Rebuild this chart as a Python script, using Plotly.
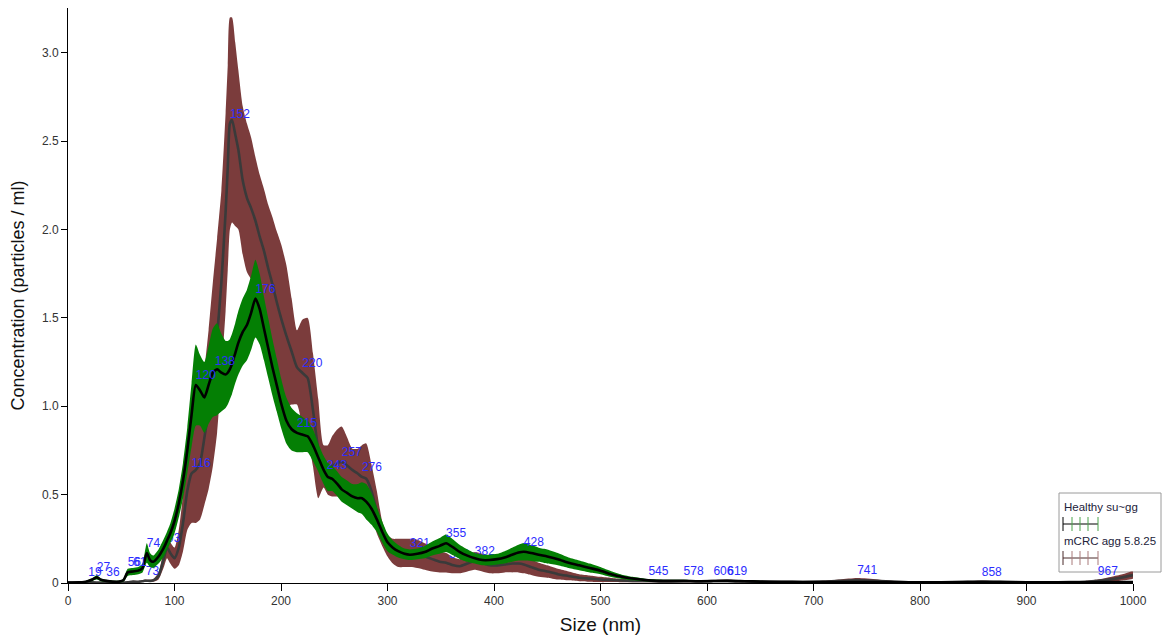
import numpy as np
import plotly.graph_objects as go

# Particle size grid (nm)
size_nm = [0, 10, 15, 19, 23, 27, 31, 36, 42, 48, 52, 56, 61, 66, 70, 72, 74, 77, 80, 85,
           90, 93, 96, 100, 104, 108, 112, 116, 120, 124, 128, 132, 136, 140, 144, 148, 150,
           152, 154, 157, 160, 164, 168, 172, 176, 180, 184, 188, 192, 196, 200, 205, 210,
           215, 220, 225, 230, 235, 240, 244, 248, 253, 257, 262, 267, 272, 276, 280, 285,
           290, 295, 300, 305, 310, 316, 321, 328, 335, 342, 349, 355, 362, 368, 375, 382,
           389, 396, 403, 410, 417, 423, 428, 435, 442, 450, 460, 470, 480, 490, 500, 510,
           520, 530, 545, 560, 578, 592, 606, 619, 635, 650, 670, 690, 710, 725, 741, 760,
           780, 800, 820, 840, 858, 880, 900, 920, 940, 955, 967, 980, 990, 1000]

# Healthy: mean concentration and error (E6 particles / ml)
healthy_mean = [0.003, 0.004, 0.006, 0.012, 0.02, 0.032, 0.018, 0.012, 0.008, 0.008, 0.015,
                0.06, 0.065, 0.07, 0.085, 0.13, 0.17, 0.13, 0.12, 0.15,
                0.2, 0.24, 0.28, 0.35, 0.45, 0.58, 0.75, 0.95, 1.12, 1.09, 1.05, 1.12, 1.19,
                1.21, 1.19, 1.18, 1.19,
                1.21, 1.24, 1.3, 1.36, 1.42, 1.46, 1.53, 1.61, 1.55, 1.44, 1.33, 1.22, 1.12,
                1.02, 0.92, 0.87,
                0.85, 0.84, 0.83, 0.78, 0.71, 0.64, 0.6, 0.59, 0.56, 0.53, 0.51, 0.49, 0.48,
                0.48, 0.46, 0.42,
                0.36, 0.29, 0.23, 0.2, 0.18, 0.165, 0.16, 0.165, 0.175, 0.195, 0.21, 0.225,
                0.2, 0.175, 0.155, 0.14,
                0.13, 0.13, 0.135, 0.145, 0.16, 0.172, 0.177, 0.17, 0.16, 0.15, 0.135, 0.115,
                0.1, 0.085, 0.07, 0.05,
                0.035, 0.025, 0.015, 0.012, 0.012, 0.01, 0.011, 0.012, 0.01, 0.008, 0.007,
                0.006, 0.005, 0.005, 0.005, 0.005,
                0.005, 0.004, 0.004, 0.005, 0.006, 0.005, 0.004, 0.004, 0.004, 0.004, 0.005,
                0.005, 0.005, 0.005]
healthy_err = [0.002, 0.002, 0.003, 0.005, 0.008, 0.012, 0.008, 0.006, 0.005, 0.005, 0.008,
               0.02, 0.02, 0.02, 0.025, 0.04, 0.055, 0.04, 0.035, 0.04,
               0.05, 0.05, 0.055, 0.07, 0.08, 0.1, 0.13, 0.18, 0.23, 0.2, 0.2, 0.22, 0.25,
               0.26, 0.22, 0.19, 0.18,
               0.17, 0.17, 0.17, 0.18, 0.19, 0.2, 0.21, 0.22, 0.2, 0.18, 0.17, 0.16, 0.15,
               0.14, 0.13, 0.12,
               0.11, 0.1, 0.09, 0.09, 0.08, 0.08, 0.08, 0.07, 0.07, 0.07, 0.07, 0.07, 0.08,
               0.09, 0.1, 0.09,
               0.07, 0.06, 0.05, 0.04, 0.035, 0.03, 0.03, 0.03, 0.035, 0.04, 0.045, 0.05,
               0.045, 0.04, 0.035, 0.03,
               0.03, 0.03, 0.03, 0.035, 0.04, 0.045, 0.05, 0.045, 0.04, 0.04, 0.035, 0.03,
               0.028, 0.025, 0.02, 0.016,
               0.012, 0.01, 0.007, 0.006, 0.006, 0.005, 0.005, 0.005, 0.005, 0.004, 0.004,
               0.003, 0.003, 0.003, 0.003, 0.003,
               0.003, 0.003, 0.003, 0.003, 0.004, 0.003, 0.003, 0.003, 0.003, 0.003, 0.003,
               0.003, 0.003, 0.003]

# mCRC: mean concentration and error
mcrc_mean = [0.002, 0.002, 0.003, 0.006, 0.004, 0.003, 0.003, 0.006, 0.003, 0.002, 0.003,
             0.004, 0.008, 0.007, 0.01, 0.013, 0.013, 0.012, 0.015, 0.04,
             0.14, 0.2, 0.17, 0.14, 0.2, 0.34, 0.52, 0.62, 0.64, 0.68, 0.82, 0.98, 1.18,
             1.4, 1.7, 2.1, 2.35,
             2.6, 2.62, 2.54, 2.45, 2.28, 2.18, 2.12, 2.05, 1.96, 1.88, 1.78, 1.69, 1.59,
             1.5, 1.4, 1.31,
             1.22, 1.19, 1.16, 0.98, 0.76, 0.66, 0.64, 0.66, 0.68, 0.685, 0.665, 0.64, 0.62,
             0.6, 0.59, 0.52,
             0.4, 0.28, 0.21, 0.18, 0.17, 0.17, 0.17, 0.165, 0.15, 0.135, 0.12, 0.115,
             0.1, 0.095, 0.11, 0.125,
             0.115, 0.1, 0.1, 0.105, 0.11, 0.11, 0.105, 0.09, 0.075, 0.065, 0.05, 0.04,
             0.03, 0.025, 0.02, 0.017,
             0.014, 0.012, 0.011, 0.009, 0.01, 0.009, 0.011, 0.012, 0.009, 0.007, 0.006,
             0.006, 0.008, 0.012, 0.016, 0.012,
             0.006, 0.004, 0.004, 0.006, 0.008, 0.006, 0.004, 0.004, 0.005, 0.007, 0.012,
             0.022, 0.032, 0.045]
mcrc_err = [0.001, 0.001, 0.002, 0.003, 0.002, 0.002, 0.002, 0.003, 0.002, 0.001, 0.002,
            0.002, 0.004, 0.004, 0.005, 0.006, 0.006, 0.006, 0.008, 0.02,
            0.05, 0.06, 0.06, 0.06, 0.1, 0.16, 0.22, 0.28, 0.3, 0.32, 0.38, 0.45, 0.52,
            0.55, 0.52, 0.56, 0.58,
            0.6, 0.58, 0.52, 0.45, 0.42, 0.42, 0.4, 0.36, 0.35, 0.35, 0.36, 0.38, 0.4,
            0.42, 0.4, 0.3,
            0.21, 0.3, 0.34, 0.32, 0.28, 0.12, 0.14, 0.17, 0.19, 0.2, 0.16, 0.12, 0.14,
            0.18, 0.2, 0.15,
            0.12, 0.07, 0.06, 0.07, 0.08, 0.08, 0.08, 0.08, 0.075, 0.07, 0.06, 0.055,
            0.045, 0.04, 0.045, 0.05,
            0.05, 0.045, 0.045, 0.045, 0.05, 0.05, 0.05, 0.045, 0.04, 0.035, 0.03, 0.025,
            0.02, 0.018, 0.015, 0.012,
            0.01, 0.008, 0.007, 0.006, 0.006, 0.005, 0.006, 0.006, 0.005, 0.004, 0.004,
            0.004, 0.005, 0.008, 0.012, 0.008,
            0.004, 0.003, 0.003, 0.004, 0.005, 0.004, 0.003, 0.003, 0.003, 0.005, 0.008,
            0.014, 0.018, 0.02]

# Peak size labels for each sample
healthy_peaks = [27, 56, 61, 74, 120, 138, 176, 215, 243, 355, 428, 578, 619, 858]
mcrc_peaks = [19, 36, 73, 93, 116, 152, 220, 257, 276, 321, 358, 382, 423, 545, 606, 741, 967]

GREEN = "#047f04"
BROWN = "#7b3c3c"
LABEL_BLUE = "rgb(45,45,255)"

W, H = 1162, 637
L, R, T, B = 68, 29, 8, 54
pw, ph = W - L - R, H - T - B
Y_MAX = 3.254
# lift peak labels a few pixels above their peak
LABEL_LIFT = 3 * Y_MAX / ph


def band(x, mean, err, color):
    x = np.asarray(x, float)
    m = np.asarray(mean, float)
    e = np.asarray(err, float)
    upper = m + e
    lower = np.clip(m - e, 0, None)
    return go.Scatter(
        x=np.concatenate([x, x[::-1]]),
        y=np.concatenate([upper, lower[::-1]]),
        fill="toself", fillcolor=color, mode="lines",
        line=dict(width=0, color=color, shape="spline", smoothing=0.6),
        hoverinfo="skip", showlegend=False)


def mean_line(x, mean, color):
    return go.Scatter(x=x, y=mean, mode="lines",
                      line=dict(color=color, width=2.6, shape="spline", smoothing=0.6),
                      hoverinfo="skip", showlegend=False)


def peak_text(peaks, x, mean):
    ys = np.interp(peaks, x, mean) + LABEL_LIFT
    return go.Scatter(x=peaks, y=ys, mode="text", text=[str(p) for p in peaks],
                      textposition="top right",
                      textfont=dict(family="Arial, Liberation Sans", size=12, color=LABEL_BLUE),
                      hoverinfo="skip", showlegend=False, cliponaxis=False)


fig = go.Figure()
fig.add_trace(band(size_nm, mcrc_mean, mcrc_err, BROWN))
fig.add_trace(mean_line(size_nm, mcrc_mean, "#3a3a3a"))
fig.add_trace(peak_text(mcrc_peaks, size_nm, mcrc_mean))
fig.add_trace(band(size_nm, healthy_mean, healthy_err, GREEN))
fig.add_trace(mean_line(size_nm, healthy_mean, "#000000"))
fig.add_trace(peak_text(healthy_peaks, size_nm, healthy_mean))


def px(xp):
    return (xp - L) / pw


def py(yp):
    return (H - B - yp) / ph


# Legend box drawn by hand (error-bar style swatches)
shapes = [dict(type="rect", xref="paper", yref="paper",
               x0=px(1059), x1=px(1161), y0=py(572), y1=py(493),
               line=dict(color="#9a9a9a", width=1), fillcolor="white", layer="below")]
for yc, base, tick_col in [(524, "#000000", "#4aa34a"), (558, "#4a2a2a", "#a97a7a")]:
    shapes.append(dict(type="line", xref="paper", yref="paper",
                       x0=px(1063), x1=px(1098), y0=py(yc), y1=py(yc),
                       line=dict(color=base, width=1), layer="above"))
    for i, xt in enumerate([1063, 1072, 1080, 1088, 1098]):
        shapes.append(dict(type="line", xref="paper", yref="paper",
                           x0=px(xt), x1=px(xt), y0=py(yc - 7), y1=py(yc + 7),
                           line=dict(color=base if i == 0 else tick_col, width=1),
                           layer="above"))

annotations = []
for txt, yc in [("Healthy su~gg", 507), ("mCRC agg 5.8.25", 541)]:
    annotations.append(dict(text=txt, xref="paper", yref="paper", x=px(1062), y=py(yc),
                            xanchor="left", yanchor="middle", showarrow=False,
                            font=dict(family="Arial, Liberation Sans", size=11.5,
                                      color="#22223a")))

fig.update_layout(
    width=W, height=H,
    margin=dict(l=L, r=R, t=T, b=B, autoexpand=False),
    paper_bgcolor="white", plot_bgcolor="white",
    showlegend=False,
    shapes=shapes, annotations=annotations,
    font=dict(family="Arial, Liberation Sans", color="#000"),
    xaxis=dict(range=[0, 1000], showgrid=False, zeroline=False,
               showline=True, linecolor="#000", linewidth=1,
               ticks="outside", ticklen=7, tickcolor="#000",
               tickvals=list(range(0, 1001, 100)),
               tickfont=dict(size=12, color="#333"),
               title=dict(text="Size (nm)", font=dict(size=19, color="#111"), standoff=10),
               automargin=False),
    yaxis=dict(range=[0, Y_MAX], showgrid=False, zeroline=False,
               showline=True, linecolor="#000", linewidth=1,
               ticks="outside", ticklen=6, tickcolor="#000",
               tickvals=[0, 0.5, 1.0, 1.5, 2.0, 2.5, 3.0],
               ticktext=["0", "0.5", "1.0", "1.5", "2.0", "2.5", "3.0"],
               tickfont=dict(size=12, color="#333"),
               title=dict(text="Concentration (particles / ml)",
                          font=dict(size=18, color="#111"), standoff=12),
               automargin=False),
)

fig.write_html("out.html")
